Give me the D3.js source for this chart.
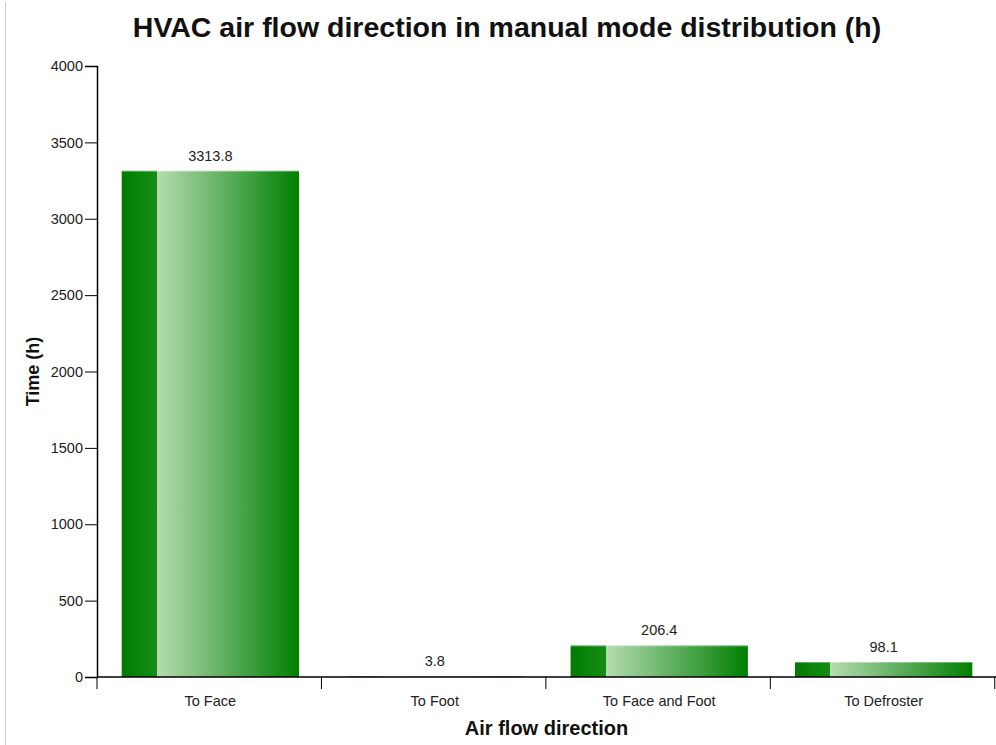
<!DOCTYPE html>
<html>
<head>
<meta charset="utf-8">
<script src="https://cdn.jsdelivr.net/npm/d3@7"></script>
<style>
  html, body { margin: 0; padding: 0; background: #fff; }
  svg { display: block; font-family: "Liberation Sans", Arial, sans-serif; }
</style>
</head>
<body>
<div id="chart"></div>
<script>
// data
const categories = ['To Face', 'To Foot', 'To Face and Foot', 'To Defroster'];
const hours = [3313.8, 3.8, 206.4, 98.1];
const yTicks = [0, 500, 1000, 1500, 2000, 2500, 3000, 3500, 4000];

const width = 996;
const height = 745;
const margin = { top: 66, right: -1, bottom: 68, left: 97 };

const svg = d3.select('#chart')
  .append('svg')
  .attr('width', width)
  .attr('height', height);

// thin grey frame line on the left of the page
svg.append('line')
  .attr('x1', 5.5).attr('x2', 5.5)
  .attr('y1', 2).attr('y2', height)
  .attr('stroke', '#cfcfcf')
  .attr('stroke-width', 1);

// bar fill: darker side strip, then light-to-dark face
const grad = svg.append('defs').append('linearGradient')
  .attr('id', 'barGrad')
  .attr('x1', '0%').attr('x2', '100%')
  .attr('y1', '0%').attr('y2', '0%');
grad.append('stop').attr('offset', '0%').attr('stop-color', '#007c00');
grad.append('stop').attr('offset', '20%').attr('stop-color', '#168d16');
grad.append('stop').attr('offset', '20%').attr('stop-color', '#b4dcb0');
grad.append('stop').attr('offset', '60%').attr('stop-color', '#5bad5b');
grad.append('stop').attr('offset', '100%').attr('stop-color', '#007f00');

const x = d3.scaleBand()
  .domain(categories)
  .range([margin.left, width - margin.right])
  .paddingInner(0.21)
  .paddingOuter(0.11);

const y = d3.scaleLinear()
  .domain([0, 4000])
  .range([height - margin.bottom, margin.top]);

const y0 = y(0);

// bars
svg.selectAll('rect.bar')
  .data(hours)
  .enter()
  .append('rect')
  .attr('class', 'bar')
  .attr('x', (d, i) => x(categories[i]))
  .attr('y', d => y(d))
  .attr('width', x.bandwidth())
  .attr('height', d => y0 - y(d))
  .attr('fill', 'url(#barGrad)');

// light top edge on the bars
svg.selectAll('line.edge')
  .data(hours)
  .enter()
  .append('line')
  .attr('class', 'edge')
  .attr('x1', (d, i) => x(categories[i]))
  .attr('x2', (d, i) => x(categories[i]) + x.bandwidth())
  .attr('y1', d => y(d) + 0.5)
  .attr('y2', d => y(d) + 0.5)
  .attr('stroke', '#ffffff')
  .attr('stroke-opacity', d => d > 20 ? 0.35 : 0);

// value labels
svg.selectAll('text.val')
  .data(hours)
  .enter()
  .append('text')
  .attr('class', 'val')
  .attr('x', (d, i) => x(categories[i]) + x.bandwidth() / 2)
  .attr('y', d => y(d) - 10)
  .attr('text-anchor', 'middle')
  .style('font-size', '14.5px')
  .style('fill', '#222')
  .text(d => d.toFixed(1));

// x axis: ticks sit on the band boundaries
const step = x.step();
const bounds = [0, 1, 2, 3, 4].map(i => margin.left + i * step);
const xAxis = svg.append('g').attr('class', 'x-axis');
xAxis.append('line')
  .attr('x1', margin.left).attr('x2', width)
  .attr('y1', y0).attr('y2', y0)
  .attr('stroke', '#000').attr('stroke-width', 1.5);
xAxis.selectAll('line.tick')
  .data(bounds)
  .enter()
  .append('line')
  .attr('class', 'tick')
  .attr('x1', d => d).attr('x2', d => d)
  .attr('y1', y0).attr('y2', y0 + 12)
  .attr('stroke', '#000').attr('stroke-width', 1);
xAxis.selectAll('text')
  .data(categories)
  .enter()
  .append('text')
  .attr('x', d => x(d) + x.bandwidth() / 2)
  .attr('y', y0 + 29)
  .attr('text-anchor', 'middle')
  .style('font-size', '14.5px')
  .style('fill', '#222')
  .text(d => d);

// y axis
const yAxis = svg.append('g')
  .attr('transform', 'translate(' + margin.left + ',0)')
  .call(d3.axisLeft(y).tickValues(yTicks).tickSize(12).tickPadding(2).tickFormat(d3.format('d')));
yAxis.select('.domain').attr('stroke', '#000').attr('stroke-width', 1.5);
yAxis.selectAll('.tick line').attr('stroke', '#000');
yAxis.selectAll('.tick text')
  .style('font-size', '14.5px')
  .style('font-family', '"Liberation Sans", Arial, sans-serif')
  .style('fill', '#222');

// title
svg.append('text')
  .attr('x', 507)
  .attr('y', 37)
  .attr('text-anchor', 'middle')
  .style('font-size', '28.5px')
  .style('font-weight', 'bold')
  .style('fill', '#111')
  .text('HVAC air flow direction in manual mode distribution (h)');

// axis titles
svg.append('text')
  .attr('x', margin.left + (width - margin.left) / 2)
  .attr('y', 735)
  .attr('text-anchor', 'middle')
  .style('font-size', '20px')
  .style('font-weight', 'bold')
  .style('fill', '#111')
  .text('Air flow direction');

svg.append('text')
  .attr('transform', 'translate(39,' + ((y(0) + y(4000)) / 2) + ') rotate(-90)')
  .attr('text-anchor', 'middle')
  .style('font-size', '18px')
  .style('font-weight', 'bold')
  .style('fill', '#111')
  .text('Time (h)');
</script>
</body>
</html>
